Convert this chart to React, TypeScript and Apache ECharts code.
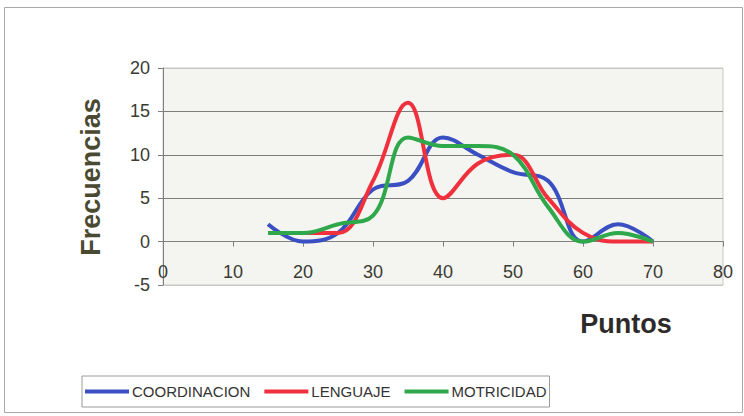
import React, { useEffect, useRef } from "react";
import * as echarts from "echarts";

const puntos = [15, 20, 25, 30, 35, 40, 45, 50, 55, 60, 65, 70];
const coordinacion = [2, 0, 1, 6, 7, 12, 10, 8, 7, 0, 2, 0];
const lenguaje = [null, 1, 1, 7, 16, 5, 9, 10, 5, 1, 0, 0];
const motricidad = [1, 1, 2, 3, 12, 11, 11, 10, 4, 0, 1, 0];
const seriesNames = ["COORDINACION", "LENGUAJE", "MOTRICIDAD"];
const seriesColors = ["#3a4fc2", "#f0303c", "#2fa84c"];

const pairs = (vals: (number | null)[]) =>
  puntos.map((x, i) => (vals[i] === null ? [x, null] : [x, vals[i]]));

export default function App() {
  const ref = useRef<HTMLDivElement>(null);
  useEffect(() => {
    if (!ref.current) return;
    const chart = echarts.init(ref.current, null, { renderer: "svg" });
    const font = "'Liberation Sans', Arial, sans-serif";
    const allVals = [coordinacion, lenguaje, motricidad];
    chart.setOption({
      animation: false,
      backgroundColor: "#ffffff",
      textStyle: { fontFamily: font },
      grid: {
        left: 163,
        right: 21,
        top: 68,
        bottom: 131,
        show: true,
        backgroundColor: "#f4f4f0",
        borderColor: "#c8c8c4",
        borderWidth: 1,
      },
      xAxis: {
        type: "value",
        min: 0,
        max: 80,
        interval: 10,
        offset: -43.4,
        axisLine: { show: true, onZero: false, lineStyle: { color: "#808080", width: 1 } },
        axisTick: { show: true, length: 5, lineStyle: { color: "#808080" } },
        axisLabel: { color: "#3a3a32", fontSize: 18, margin: 21, fontFamily: font },
        splitLine: { show: false },
      },
      yAxis: {
        type: "value",
        min: -5,
        max: 20,
        interval: 5,
        axisLine: { show: true, onZero: false, lineStyle: { color: "#808080", width: 1 } },
        axisTick: { show: true, length: 5, lineStyle: { color: "#808080" } },
        axisLabel: { color: "#3a3a32", fontSize: 18, margin: 13, fontFamily: font },
        splitLine: {
          show: true,
          lineStyle: {
            color: ["#c8c8c4", "#7c7c7c", "#7c7c7c", "#7c7c7c", "#7c7c7c", "#c8c8c4"],
            width: 1,
          },
        },
      },
      legend: {
        left: 82,
        top: 376,
        orient: "horizontal",
        backgroundColor: "#ffffff",
        borderColor: "#9a9a9a",
        borderWidth: 1,
        padding: [8, 3],
        itemGap: 14,
        itemWidth: 44,
        itemHeight: 4,
        icon: "rect",
        textStyle: { color: "#333333", fontSize: 15, fontFamily: font, padding: [0, 0, 0, -2] },
        data: seriesNames,
      },
      graphic: [
        {
          type: "rect",
          shape: { x: 4.5, y: 7.5, width: 738, height: 405 },
          style: { fill: "none", stroke: "#a8a8a8", lineWidth: 1 },
          silent: true,
          z: -10,
        },
        {
          type: "text",
          x: 91,
          y: 177,
          rotation: Math.PI / 2,
          style: {
            text: "Frecuencias",
            font: `bold 27px ${font}`,
            fill: "#4a4a33",
            align: "center",
            verticalAlign: "middle",
          },
        },
        {
          type: "text",
          x: 626,
          y: 324,
          style: {
            text: "Puntos",
            font: `bold 27px ${font}`,
            fill: "#2e2a2a",
            align: "center",
            verticalAlign: "middle",
          },
        },
      ],
      series: seriesNames.map((name, i) => ({
        name,
        type: "line",
        data: pairs(allVals[i]),
        smooth: 0.4,
        showSymbol: false,
        symbol: "none",
        connectNulls: false,
        lineStyle: { color: seriesColors[i], width: 4 },
        itemStyle: { color: seriesColors[i] },
        z: 3 + i,
      })),
    });
    return () => chart.dispose();
  }, []);
  return (
    <div
      ref={ref}
      style={{ position: "absolute", left: 0, top: 0, width: 744, height: 416 }}
    />
  );
}
